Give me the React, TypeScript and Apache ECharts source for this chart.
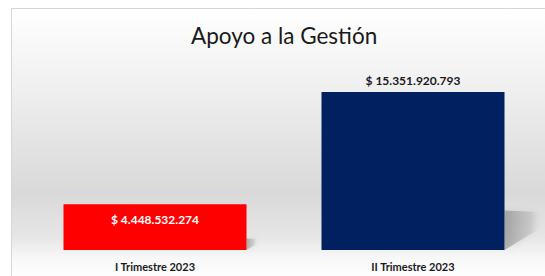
import React, { useEffect, useRef } from "react";
import * as echarts from "echarts";

const title = "Apoyo a la Gestión";
const categories = ["I Trimestre 2023", "II Trimestre 2023"];
const values = [4448532274, 15351920793];
const barColors = ["#ff0000", "#002060"];

const fmt = (v: number) =>
  "$ " + String(Math.round(v)).replace(/\B(?=(\d{3})+(?!\d))/g, ".");

const BAR_W = 183;

export default function App() {
  const ref = useRef<HTMLDivElement>(null);
  useEffect(() => {
    document.body.style.margin = "0";
    const chart = echarts.init(ref.current!, null, { renderer: "svg" });
    const font = "Lato, 'Open Sans', sans-serif";
    chart.setOption({
      animation: false,
      backgroundColor: "#ffffff",
      title: {
        text: title,
        left: 191,
        top: 24,
        padding: 0,
        textStyle: { fontFamily: font, fontSize: 22.5, fontWeight: "normal", color: "#1a1a1a" },
      },
      graphic: [
        {
          type: "rect",
          z: -10,
          silent: true,
          shape: { x: 11.5, y: 8.5, width: 545, height: 272 },
          style: {
            stroke: "#d6d6d6",
            lineWidth: 1,
            fill: new echarts.graphic.LinearGradient(0, 0, 0, 1, [
              { offset: 0, color: "#ffffff" },
              { offset: 0.25, color: "#f2f2f2" },
              { offset: 0.5, color: "#e3e3e3" },
              { offset: 0.68, color: "#d9d9d9" },
              { offset: 0.84, color: "#e6e6e6" },
              { offset: 0.92, color: "#f8f8f8" },
              { offset: 1, color: "#ffffff" },
            ]),
          },
        },
      ],
      grid: { left: 26, right: 3, top: 92, bottom: 26 },
      xAxis: {
        type: "category",
        data: categories,
        axisLine: { show: false },
        axisTick: { show: false },
        axisLabel: {
          margin: 11,
          fontFamily: font,
          fontSize: 11,
          fontWeight: "bold",
          color: "#1a1a1a",
        },
      },
      yAxis: {
        type: "value",
        min: 0,
        max: "dataMax",
        show: false,
        splitLine: { show: false },
      },
      series: [
        {
          type: "custom",
          z: 1,
          silent: true,
          data: values.map((v, i) => [i, v]),
          renderItem: (params: any, api: any) => {
            const top = api.coord([api.value(0), api.value(1)]);
            const base = api.coord([api.value(0), 0]);
            const xr = top[0] + BAR_W / 2;
            const yb = base[1];
            const H = yb - top[1];
            const w = H * 0.23;
            return {
              type: "polygon",
              shape: {
                points: [
                  [xr, yb - H * 0.25],
                  [xr + w, yb - H * 0.24],
                  [xr + w, yb - H * 0.14],
                  [xr, yb],
                ],
              },
              style: {
                fill: new echarts.graphic.LinearGradient(0, 0, 1, 0, [
                  { offset: 0, color: "rgba(120,120,120,0.55)" },
                  { offset: 0.7, color: "rgba(150,150,150,0.3)" },
                  { offset: 1, color: "rgba(180,180,180,0)" },
                ]),
                shadowBlur: 6,
                shadowColor: "rgba(0,0,0,0.15)",
              },
            };
          },
        },
        {
          type: "bar",
          z: 2,
          barWidth: BAR_W,
          data: values.map((v, i) => ({
            value: v,
            itemStyle: { color: barColors[i] },
            label:
              i === 0
                ? { position: "insideTop", distance: 9, color: "#ffffff" }
                : { position: "top", distance: 6, color: "#1a1a1a" },
          })),
          label: {
            show: true,
            fontFamily: font,
            fontSize: 12,
            fontWeight: "bold",
            formatter: (p: any) => fmt(p.value),
          },
        },
      ],
    });
    return () => chart.dispose();
  }, []);
  return <div ref={ref} style={{ width: 545, height: 276 }} />;
}
